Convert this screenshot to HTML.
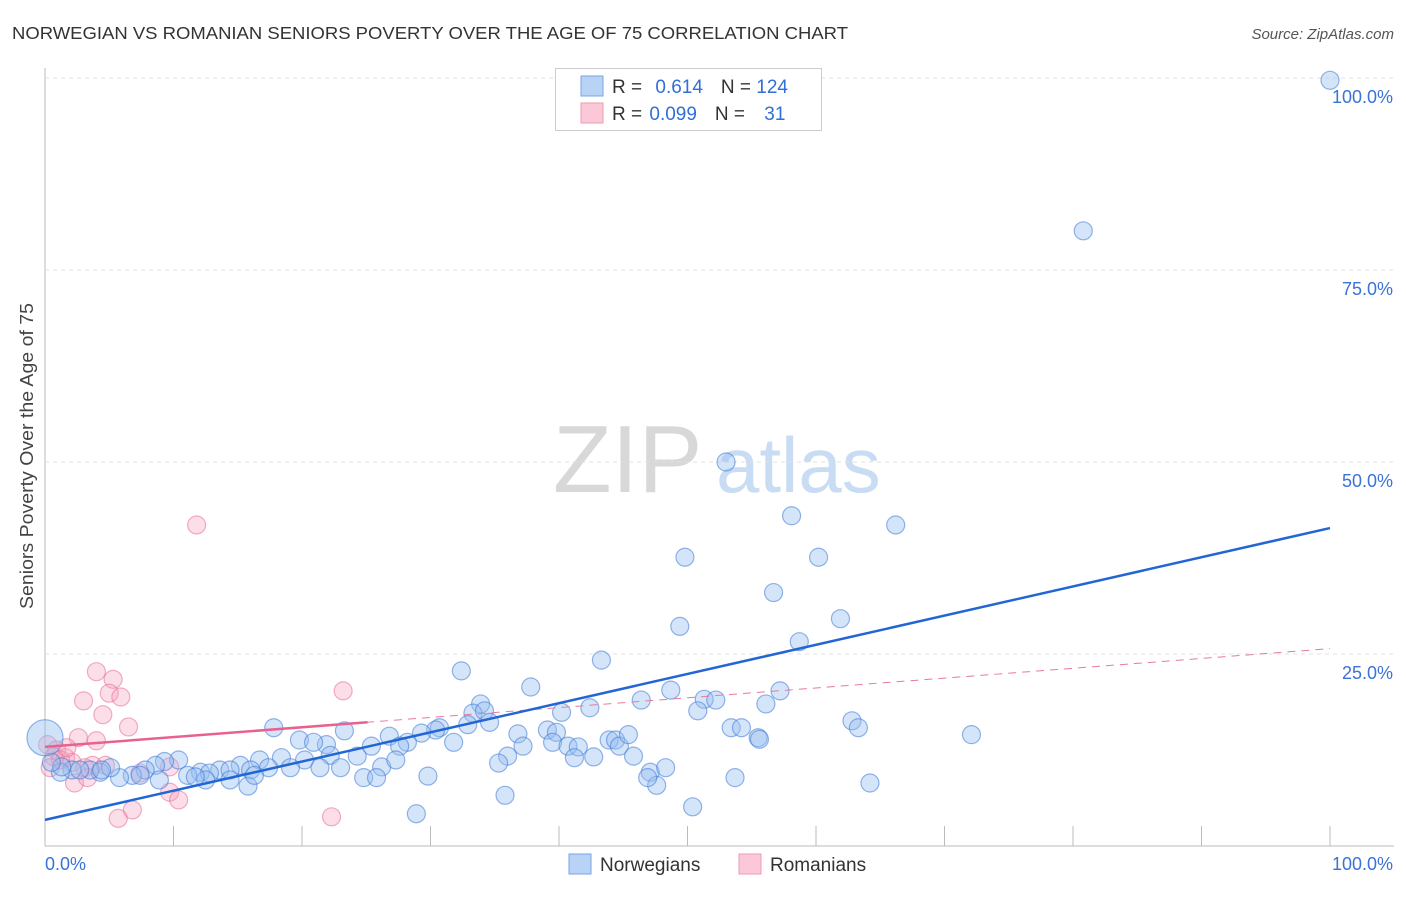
<!DOCTYPE html>
<html><head><meta charset="utf-8"><style>
body{margin:0;background:#fff;font-family:"Liberation Sans",sans-serif;}
svg text{font-family:"Liberation Sans",sans-serif;}
</style></head><body>
<svg id="chart" width="1406" height="892" xmlns="http://www.w3.org/2000/svg">
<text x="12" y="39" font-size="17.5" fill="#333" textLength="836" lengthAdjust="spacingAndGlyphs">NORWEGIAN VS ROMANIAN SENIORS POVERTY OVER THE AGE OF 75 CORRELATION CHART</text>
<text x="1394" y="39" font-size="15" fill="#555" font-style="italic" text-anchor="end">Source: ZipAtlas.com</text>
<text transform="translate(33,456) rotate(-90)" font-size="18.5" fill="#444" text-anchor="middle" textLength="306" lengthAdjust="spacingAndGlyphs">Seniors Poverty Over the Age of 75</text>
<g>
<text x="553" y="492" font-size="96" fill="#d8d8d8" font-family="Liberation Serif,serif">ZIP</text>
<text x="716" y="492" font-size="78" fill="#c8dcf3">atlas</text>
</g>
<g id="grid"></g>
<g id="marks"></g>
<g>
<rect x="555.5" y="68.5" width="266" height="62" fill="#fff" stroke="#ccc"/>
<rect x="581" y="76" width="22" height="20" fill="#b8d3f5" stroke="#7aa6e0"/>
<rect x="581" y="103" width="22" height="20" fill="#fbc8d8" stroke="#ef9ab5"/>
<text x="612" y="93" font-size="19" fill="#333">R = <tspan fill="#2f6fd6" dx="8">0.614</tspan><tspan dx="18" fill="#333">N = </tspan><tspan fill="#2f6fd6">124</tspan></text>
<text x="612" y="120" font-size="19" fill="#333">R = <tspan fill="#2f6fd6" dx="2">0.099</tspan><tspan dx="18" fill="#333">N = </tspan><tspan fill="#2f6fd6" dx="14">31</tspan></text>
</g>
<g>
<rect x="569" y="854" width="22" height="20" fill="#b8d3f5" stroke="#7aa6e0"/>
<text x="600" y="871" font-size="19" fill="#333">Norwegians</text>
<rect x="739" y="854" width="22" height="20" fill="#fbc8d8" stroke="#ef9ab5"/>
<text x="770" y="871" font-size="19" fill="#333">Romanians</text>
</g>
</svg>
<script>
const blueX=[100,80.8,53.0,58.1,66.2,49.8,60.2,56.7,49.4,61.9,58.7,43.3,32.4,37.8,48.7,46.4,51.3,52.2,50.8,57.2,56.1,62.8,63.3,72.1,53.4,54.2,55.5,55.6,42.4,40.2,33.9,33.3,34.2,34.6,32.9,30.7,31.8,30.4,29.3,28.2,26.8,27.6,23.3,17.8,25.4,24.3,21.9,19.8,20.9,22.2,20.2,18.4,16.7,15.2,13.6,12.1,10.4,9.3,8.6,7.8,6.8,5.8,4.3,3.5,2.1,1.2,2.7,5.1,12.8,14.4,16.0,17.4,19.1,21.4,23.0,26.2,27.3,36.8,37.2,36.0,35.3,39.1,39.8,39.5,40.7,41.5,41.2,43.9,44.4,44.7,45.4,45.8,42.7,47.1,47.6,48.3,46.9,50.4,53.7,64.2,35.8,28.9,29.8,24.8,25.8,15.8,14.4,12.5,11.1,7.4,1.3,0.5,4.4,8.9,11.7,16.3];
const blueY=[99.7,80.1,50.0,43.0,41.8,37.6,37.6,33.0,28.6,29.6,26.6,24.2,22.8,20.7,20.3,19.0,19.1,19.0,17.6,20.2,18.5,16.3,15.4,14.5,15.4,15.4,14.1,13.9,18.0,17.4,18.5,17.3,17.6,16.1,15.8,15.4,13.5,15.1,14.7,13.5,14.3,13.0,15.0,15.4,13.0,11.7,13.2,13.8,13.5,11.8,11.2,11.5,11.2,10.5,9.9,9.6,11.2,11.0,10.5,9.9,9.2,8.9,9.6,9.9,9.9,9.6,9.9,10.2,9.5,9.9,9.9,10.2,10.2,10.2,10.2,10.3,11.2,14.6,13.0,11.7,10.8,15.1,14.8,13.5,13.0,12.9,11.5,13.8,13.8,13.0,14.5,11.7,11.6,9.6,7.9,10.2,8.9,5.1,8.9,8.2,6.6,4.2,9.1,8.9,8.9,7.8,8.6,8.6,9.2,9.2,10.3,10.9,9.9,8.6,9.0,9.2];
const pinkX=[11.8,4.0,5.3,5.0,5.9,3.0,4.5,6.5,23.2,2.6,4.0,0.2,0.9,1.6,0.7,2.1,3.1,3.7,4.7,7.4,9.7,2.3,3.3,9.7,10.4,6.8,5.7,22.3,1.2,0.4,1.7];
const pinkY=[41.8,22.7,21.7,19.9,19.4,18.9,17.1,15.5,20.2,14.1,13.7,13.2,12.5,11.5,11.6,10.9,10.2,10.5,10.5,9.5,10.3,8.2,8.9,7.0,6.0,4.7,3.6,3.8,11.2,10.2,12.8];
const bigPoint=[0,14.1];
const blueTrend=[3.4,41.4];
const pinkTrend=[12.9,25.7];
const pinkSolidEnd=25.1;
const yTicks=[25,50,75,100];
const yTickLabels=["25.0%","50.0%","75.0%","100.0%"];
const xTicks=[0,10,20,30,40,50,60,70,80,90,100];

const X0=45,X1=1330,Y0=846,Y1=78;
const sx=v=>X0+(X1-X0)*v/100;
const sy=v=>Y0-(Y0-Y1)*v/100;
const NS="http://www.w3.org/2000/svg";
function mk(tag,attrs,parent){const e=document.createElementNS(NS,tag);for(const k in attrs)e.setAttribute(k,attrs[k]);parent.appendChild(e);return e;}
const grid=document.getElementById('grid'),marks=document.getElementById('marks');
mk('line',{x1:X0,y1:68,x2:X0,y2:Y0,stroke:'#bbb'},grid);
mk('line',{x1:X0,y1:Y0,x2:1394,y2:Y0,stroke:'#bbb'},grid);
yTicks.forEach((t,i)=>{
 const l=mk('line',{x1:X0,y1:sy(t),x2:1394,y2:sy(t),stroke:'#e0e0e0','stroke-dasharray':'4,4'},grid);
 
 
 const tx=mk('text',{x:1393,y:sy(t)+25,'font-size':18,fill:'#3a72d8','text-anchor':'end'},grid);
 tx.textContent=yTickLabels[i];
 
 
});
xTicks.forEach(t=>{
 const l=mk('line',{x1:sx(t),y1:826,x2:sx(t),y2:Y0,stroke:'#bbb'},grid);
 
 
});
const xl0=mk('text',{x:45,y:870,'font-size':18,fill:'#3a72d8'},grid);xl0.textContent='0.0%';


const xl1=mk('text',{x:1393,y:870,'font-size':18,fill:'#3a72d8','text-anchor':'end'},grid);xl1.textContent='100.0%';



pinkX.forEach((x,i)=>{
 const c=mk('circle',{cx:sx(x),cy:sy(pinkY[i]),r:9,fill:'rgba(245,160,190,0.35)',stroke:'rgba(232,110,150,0.55)','stroke-width':1.2},marks);
 
 
});
blueX.forEach((x,i)=>{
 const c=mk('circle',{cx:sx(x),cy:sy(blueY[i]),r:9,fill:'rgba(150,190,240,0.4)',stroke:'rgba(60,120,215,0.55)','stroke-width':1.2},marks);
 
 
});
const bp=mk('circle',{cx:sx(bigPoint[0]),cy:sy(bigPoint[1]),r:18,fill:'rgba(150,190,240,0.45)',stroke:'rgba(60,120,215,0.55)','stroke-width':1.2},marks);


const pd=mk('line',{x1:sx(0),y1:sy(pinkTrend[0]),x2:sx(100),y2:sy(pinkTrend[1]),stroke:'#e8799f','stroke-width':1,'stroke-dasharray':'8,6'},marks);


const ps=mk('line',{x1:sx(0),y1:sy(pinkTrend[0]),x2:sx(pinkSolidEnd),y2:sy(pinkTrend[0]+(pinkTrend[1]-pinkTrend[0])*pinkSolidEnd/100),stroke:'#e8628f','stroke-width':2.5},marks);


const bl=mk('line',{x1:sx(0),y1:sy(blueTrend[0]),x2:sx(100),y2:sy(blueTrend[1]),stroke:'#2266d6','stroke-width':2.5},marks);


</script>
</body></html>
